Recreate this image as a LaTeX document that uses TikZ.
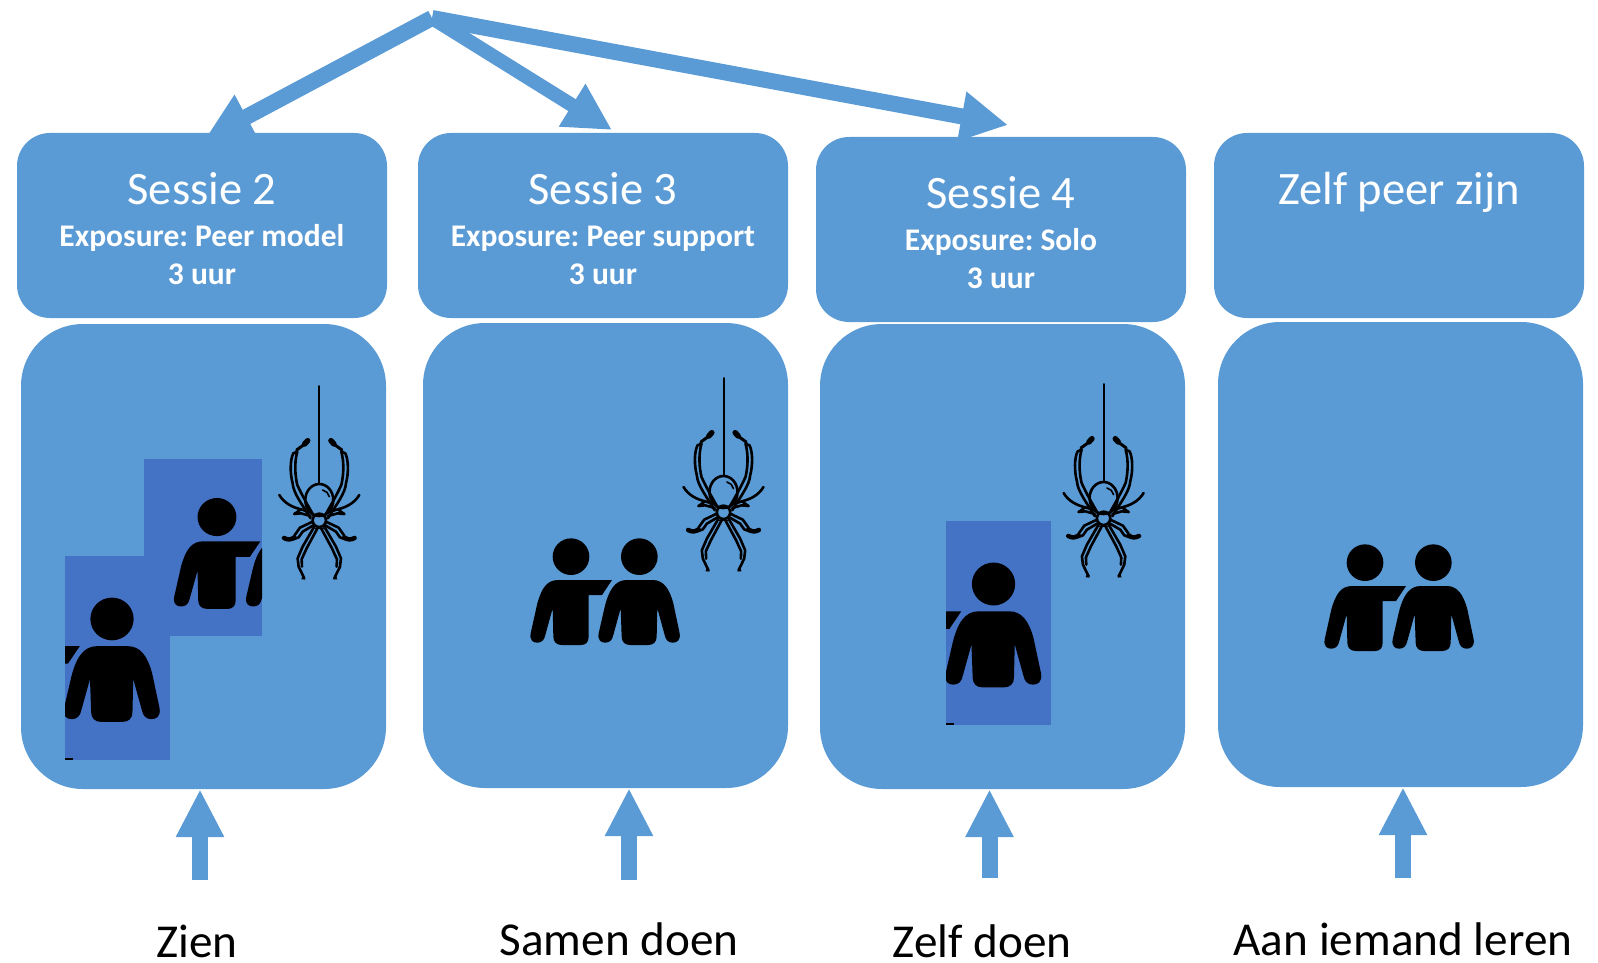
\documentclass[tikz,border=0pt]{standalone}
\usepackage{fontspec}
\setmainfont{Carlito}
\frenchspacing
\usetikzlibrary{arrows.meta}
\definecolor{blueA}{HTML}{5B9BD5}
\definecolor{blueB}{HTML}{4472C4}
\tikzset{
  topbox/.style={fill=blueA,rounded corners=33pt,minimum width=370pt,minimum height=185pt,inner sep=0pt,text=white},
  lowbox/.style={fill=blueA,rounded corners=62pt,minimum width=365pt,minimum height=465pt,inner sep=0pt},
  titletxt/.style={anchor=base,text=white,font=\fontsize{46.5}{50}\selectfont,inner sep=0pt},
  subtxt/.style={anchor=base,text=white,font=\fontsize{31.5}{34}\selectfont\bfseries,inner sep=0pt},
  captxt/.style={anchor=base,text=black,font=\fontsize{47.2}{50}\selectfont,inner sep=0pt},
  uparrow/.style={draw=blueA,line width=16pt,-{Triangle[length=48pt,width=45pt,fill=blueA]}},
  bigarrow/.style={draw=blueA,-{Triangle[length=47pt,width=47pt,fill=blueA]}},
  silk/.style={draw=black,line width=2.6pt,line join=round,line cap=round}
}
\newcommand{\peoplepair}[4]{%
  \begin{scope}[shift={(#1,#2)},xscale=#3/3,yscale=#4/3]
    \fill[black] (213,140) circle (55);
    \fill[black] (418,140) circle (55);
    \fill[black] (336,210) -- (175,210) .. controls (140,210) and (125,235) .. (112,280)
      -- (92,370) .. controls (88,392) and (100,398) .. (112,398)
      .. controls (125,398) and (133,390) .. (136,375) -- (158,295)
      -- (160,380) .. controls (160,396) and (170,405) .. (185,405)
      -- (243,405) .. controls (258,405) and (266,396) .. (266,380)
      -- (266,255) -- (306,255) -- cycle;
    \fill[black] (380,210) -- (458,210) .. controls (490,210) and (508,235) .. (520,280)
      -- (539,370) .. controls (542,392) and (530,398) .. (518,398)
      .. controls (505,398) and (497,390) .. (494,375) -- (472,295)
      -- (470,380) .. controls (470,396) and (460,405) .. (445,405)
      -- (390,405) .. controls (375,405) and (365,396) .. (365,380)
      -- (362,295) -- (340,375) .. controls (337,390) and (329,398) .. (316,398)
      .. controls (304,398) and (292,392) .. (296,370)
      -- (312,300) .. controls (325,240) and (345,210) .. (380,210) -- cycle;
  \end{scope}}
\newcommand{\spiderat}[2]{%
  \begin{scope}[shift={(#1,#2)},scale=1/3]
    \draw[silk,line width=2pt] (0,48) -- (0,340);
    \draw[silk] (0,390) ellipse (42 and 48);
    \draw[silk] (0,451) circle (20);
    \draw[silk,line width=1.6pt] (10,360) .. controls (20,362) and (28,370) .. (30,380);
    \foreach \m in {1,-1}{
      \begin{scope}[xscale=\m]
        \draw[silk] (-26,445) .. controls (-50,405) and (-78,370) .. (-80,340)
          .. controls (-88,310) and (-88,270) .. (-78,250) -- (-66,245)
          .. controls (-76,280) and (-72,320) .. (-66,345) .. controls (-50,380) and (-32,410) .. (-18,435);
        \draw[silk,line width=3pt] (-68,240) -- (-46,224);
        \draw[silk,line width=5.5pt] (-44,222) -- (-35,212);
        \draw[silk] (-120,375) .. controls (-105,400) and (-80,412) .. (-55,418) -- (-24,428);
        \draw[silk] (-75,432) -- (-55,430) -- (-26,438);
        \draw[silk] (-75,432) .. controls (-65,426) and (-60,420) .. (-55,418);
        \draw[silk] (-20,455) -- (-58,473) -- (-75,497);
        \draw[silk] (-16,465) -- (-50,485) -- (-62,502) -- (-78,508);
        \draw[silk,line width=4.5pt] (-106,504) .. controls (-95,510) and (-85,510) .. (-75,502);
        \draw[silk] (-14,468) -- (-50,530) -- (-65,565) -- (-62,590) -- (-45,625);
        \draw[silk] (-4,472) -- (-38,535) -- (-53,568) -- (-52,590);
        \fill[black] (-54,628) -- (-42,628) -- (-48,612) -- cycle;
      \end{scope}}
    \draw[silk,line width=1.6pt] (-12,476) -- (12,476);
  \end{scope}}
\begin{document}
\begin{tikzpicture}[x=1pt,y=-1pt]
\useasboundingbox (0,0) rectangle (1598,963);
% arrows from the top
\coordinate (origin) at (432,18);
\coordinate (tipA) at (205,139);
\coordinate (tipB) at (612,130);
\coordinate (tipC) at (1008,125);
% top boxes
\node[topbox] (top1) at (202,225.5) {};
\node[topbox] (top2) at (603,225.5) {};
\node[topbox] (top3) at (1001,229.5) {};
\node[topbox] (top4) at (1399,225.5) {};
\draw[bigarrow,line width=16pt] (origin) -- (tipA);
\draw[bigarrow,line width=14pt] (origin) -- (tipB);
\draw[bigarrow,line width=16pt] (origin) -- (tipC);
% lower boxes
\node[lowbox] (low1) at (203.5,556.5) {};
\node[lowbox] (low2) at (605.5,555.5) {};
\node[lowbox] (low3) at (1002.5,556.5) {};
\node[lowbox] (low4) at (1400.5,554.5) {};
% headings
\node[titletxt] (t1) at (202,204) {Sessie 2};
\node[subtxt] (e1) at (202,246) {Exposure: Peer model};
\node[subtxt] (h1) at (202,284) {3 uur};
\node[titletxt] (t2) at (603,204) {Sessie 3};
\node[subtxt] (e2) at (603,246) {Exposure: Peer support};
\node[subtxt] (h2) at (603,284) {3 uur};
\node[titletxt] (t3) at (1001,208) {Sessie 4};
\node[subtxt] (e3) at (1001,250) {Exposure: Solo};
\node[subtxt] (h3) at (1001,288) {3 uur};
\node[titletxt] (t4) at (1399,204) {Zelf peer zijn};
% dark image panels
\fill[blueB] (144,459) rectangle (262,636);
\fill[blueB] (65,556) rectangle (170,760);
\fill[blueB] (946,521) rectangle (1051,725);
\begin{scope}
  \clip (144,459) rectangle (262,636);
  \peoplepair{141.7}{468.5}{1.06}{1.04}
\end{scope}
\begin{scope}
  \clip (65,556) rectangle (170,760);
  \peoplepair{-52.4}{564.6}{1.18}{1.165}
\end{scope}
\begin{scope}
  \clip (946,521) rectangle (1051,725);
  \peoplepair{829.1}{529.4}{1.18}{1.17}
\end{scope}
\fill[black] (65,758) rectangle (73,760);
\fill[black] (946,723) rectangle (954,725);
\peoplepair{500}{510}{1}{1}
\peoplepair{1294}{516}{1}{1}
% spiders
\spiderat{319.3}{370}
\spiderat{723.5}{362}
\spiderat{1103.6}{368}
% bottom arrows
\coordinate (u1) at (200,880);
\coordinate (u2) at (629,880);
\coordinate (u3) at (989.5,878);
\coordinate (u4) at (1403,878);
\draw[uparrow] (u1) -- (u1 |- low1.south);
\draw[uparrow] (u2) -- (u2 |- low2.south);
\draw[uparrow] (u3) -- (u3 |- low3.south);
\draw[uparrow] (u4) -- (u4 |- low4.south);
% captions
\node[captxt] (c1) at (197,957) {Zien};
\node[captxt] (c2) at (619,955) {Samen doen};
\node[captxt] (c3) at (982,957) {Zelf doen};
\node[captxt] (c4) at (1403,955) {Aan iemand leren};
\end{tikzpicture}
\end{document}
